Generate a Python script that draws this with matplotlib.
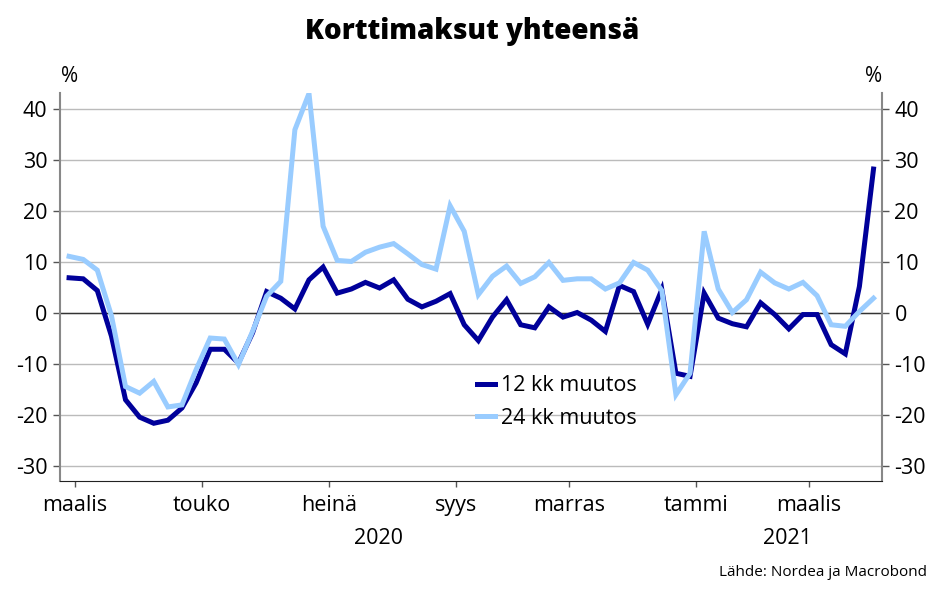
import matplotlib
matplotlib.use("Agg")
import matplotlib.pyplot as plt
import matplotlib.transforms as mtransforms
import numpy as np

plt.rcParams["font.family"] = ["Open Sans", "DejaVu Sans"]
plt.rcParams["axes.unicode_minus"] = False

# viikoittaiset havainnot, maaliskuu 2020 - maaliskuu 2021
muutos_12kk = [6.9, 6.7, 4.4, -4.5, -17.0, -20.4, -21.6, -21.0, -18.6, -13.7,
               -7.1, -7.1, -9.8, -3.9, 4.2, 2.9, 0.8, 6.5, 9.0, 3.9,
               4.7, 6.0, 4.9, 6.5, 2.7, 1.2, 2.3, 3.8, -2.3, -5.4,
               -0.8, 2.6, -2.3, -2.9, 1.2, -0.8, 0.1, -1.4, -3.6, 5.4,
               4.2, -2.2, 4.6, -11.8, -12.4, 3.9, -1.0, -2.1, -2.7, 2.0,
               -0.3, -3.1, -0.3, -0.3, -6.2, -8.0, 5.2, 28.2]
muutos_24kk = [11.1, 10.5, 8.4, -0.5, -14.4, -15.7, -13.4, -18.4, -18.0, -11.1,
               -4.9, -5.1, -10.1, -3.6, 3.3, 6.2, 35.9, 43.0, 17.0, 10.3,
               10.1, 11.9, 12.9, 13.6, 11.6, 9.5, 8.6, 21.0, 16.0, 3.6,
               7.2, 9.2, 5.8, 7.1, 9.9, 6.4, 6.7, 6.7, 4.7, 5.9,
               9.9, 8.4, 4.4, -16.0, -11.8, 16.0, 4.7, 0.1, 2.6, 8.0,
               5.9, 4.7, 6.0, 3.4, -2.3, -2.6, 0.3, 2.9]

kuukausi_paikat = [0.4, 9.4, 18.4, 27.4, 35.4, 44.4, 52.4]
kuukaudet = ["maalis", "touko", "heinä", "syys", "marras", "tammi", "maalis"]
vuodet = ["2020", "2021"]
vuosi_paikat = [21.9, 50.9]

x = np.arange(len(muutos_12kk))

fig = plt.figure(figsize=(9.44, 5.98), dpi=100)
ax = fig.add_axes([0.0636, 0.1957, 0.8707, 0.6488])

ax.set_ylim(-32.9, 43.1)
ax.set_xlim(-0.64, 57.6)
ax.set_yticks(range(-30, 41, 10))
ax.grid(axis="y", color="#bbbbbb", linewidth=1)
ax.axhline(0, color="#333333", linewidth=1)

ax.plot(x, muutos_12kk, color="#00009a", linewidth=3.6, label="12 kk muutos",
        solid_joinstyle="miter")
ax.plot(x, muutos_24kk, color="#99ccff", linewidth=3.6, label="24 kk muutos",
        solid_joinstyle="miter")

ax.set_xticks(kuukausi_paikat)
ax.set_xticklabels(kuukaudet)
ax.tick_params(axis="x", labelsize=15.5, length=4, width=1, color="#555555", pad=6)
ax.tick_params(axis="y", labelsize=15.5, length=5, width=1, color="#555555",
               left=True, right=True, labelleft=True, labelright=True, pad=4)

for s in ["left", "right"]:
    ax.spines[s].set_color("#888888")
    ax.spines[s].set_linewidth(1.5)
ax.spines["top"].set_visible(False)
ax.spines["bottom"].set_color("#222222")

trans = mtransforms.blended_transform_factory(ax.transData, ax.transAxes)
for v, p in zip(vuodet, vuosi_paikat):
    ax.text(p, -0.147, v, transform=trans, ha="center", va="center", fontsize=15.5)

fig.text(0.074, 0.872, "%", ha="center", va="center", fontsize=15)
fig.text(0.925, 0.872, "%", ha="center", va="center", fontsize=15)

fig.text(0.5, 0.948, "Korttimaksut yhteensä", ha="center", va="center",
         fontsize=20, fontweight=800)
fig.text(0.982, 0.042, "Lähde: Nordea ja Macrobond", ha="right", va="center", fontsize=11)

ax.legend(loc="upper left", bbox_to_anchor=(0.497, 0.295), frameon=False, fontsize=15.5,
          handlelength=0.85, handletextpad=0.25, labelspacing=0.55, borderaxespad=0)

fig.savefig("out.png", dpi=100)
